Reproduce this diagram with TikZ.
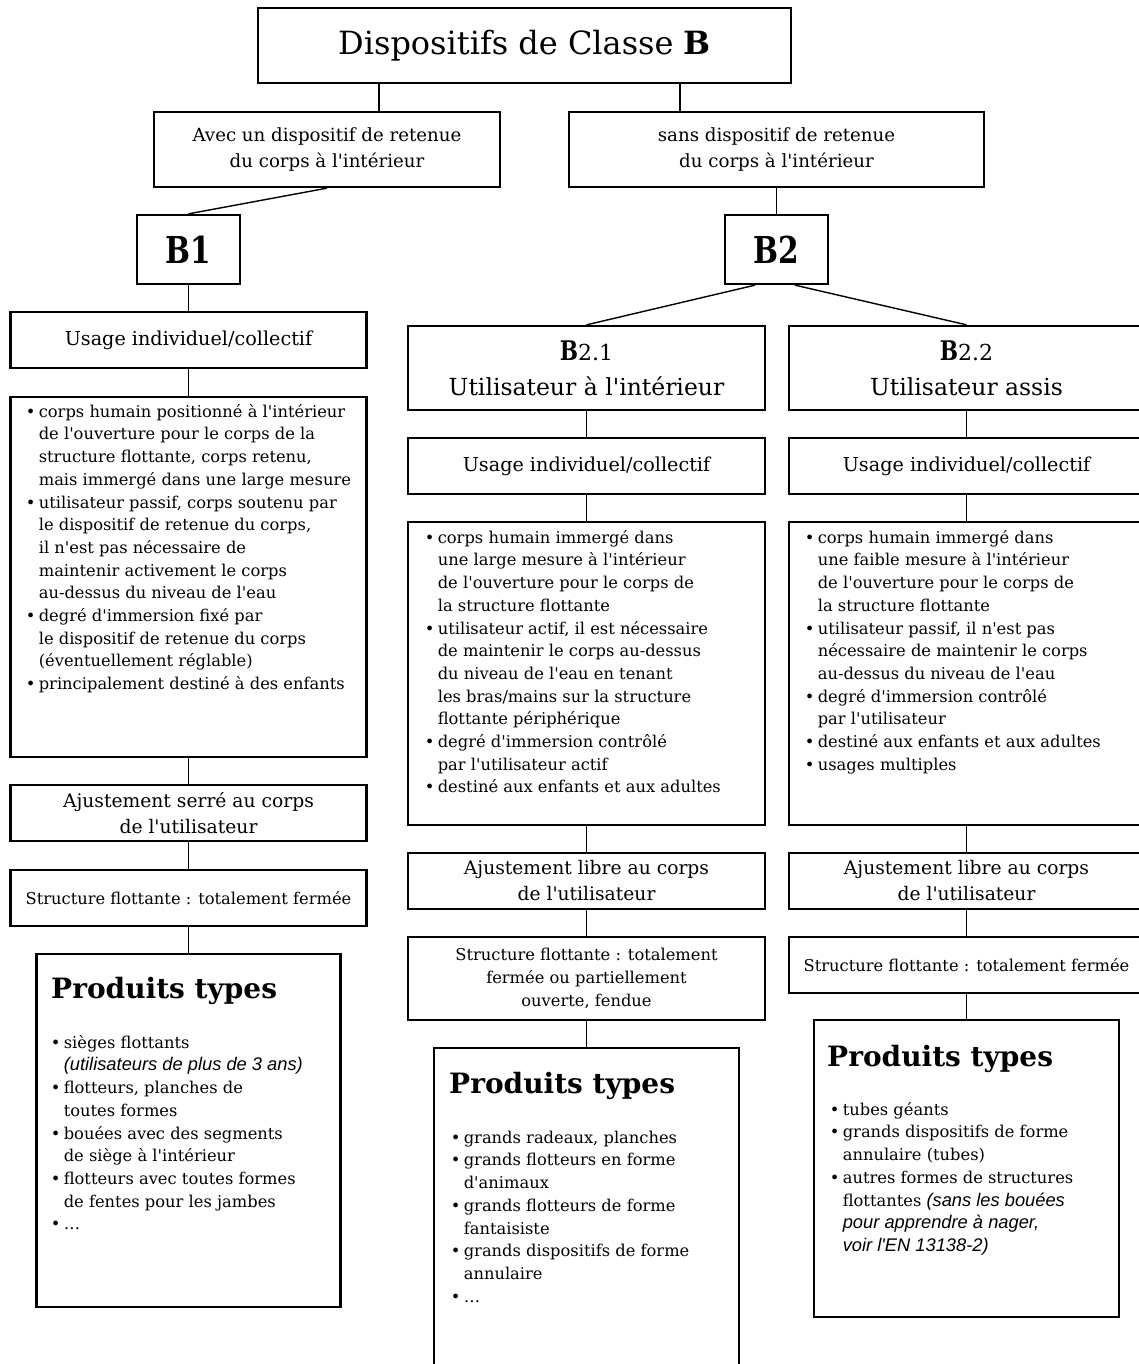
\documentclass[tikz,border=0pt]{standalone}
\usepackage{fontspec}
\setmainfont{DejaVu Serif}[Ligatures=TeXOff]
\newfontfamily\arialf{Liberation Sans}[Ligatures=TeXOff]
\newfontfamily\condf{DejaVu Serif}[FakeStretch=0.8]
\newcommand\bul{\makebox[13pt][l]{\textbullet}}
\newcommand\cont{\hspace*{13pt}}
\newcommand\fstrut{\rule{0pt}{16pt}}
\newcommand\ital[1]{{\arialf\itshape\fontsize{18.3}{22.7}\selectfont #1}}
\newcommand\bodyfont{\fontsize{16.3}{22.7}\selectfont}
\begin{document}
\begin{tikzpicture}[x=1pt,y=-1pt,
  box/.style={draw, line width=2.3pt, inner sep=0pt, align=center},
  conn/.style={line width=1.4pt},
  txt/.style={inner sep=0pt, align=left, anchor=north west, font=\bodyfont},
  head/.style={inner sep=0pt, anchor=base west, font=\fontsize{28}{32}\selectfont\bfseries}]
\useasboundingbox (0,0) rectangle (1139,1364);
\fill[white] (0,0) rectangle (1139,1364);

% top level
\node[box, minimum width=533pt, minimum height=75pt, font=\fontsize{32}{38}\selectfont] (top) at (524.5,45.5) {Dispositifs de Classe \textbf{B}};
\node[box, minimum width=346pt, minimum height=75pt, font=\fontsize{18.2}{26}\selectfont] (avec) at (327,149.5) {Avec un dispositif de retenue\\du corps à l'intérieur};
\node[box, minimum width=415pt, minimum height=75pt, font=\fontsize{18.2}{26}\selectfont] (sans) at (776.5,149.5) {sans dispositif de retenue\\du corps à l'intérieur};
\node[box, minimum width=103pt, minimum height=69pt, font=\condf\bfseries\fontsize{37}{40}\selectfont] (b1) at (188.5,249.5) {B1};
\node[box, minimum width=103pt, minimum height=69pt, font=\condf\bfseries\fontsize{37}{40}\selectfont] (b2) at (776.5,249.5) {B2};

% left column
\node[box, minimum width=356pt, minimum height=56pt, font=\fontsize{19.2}{24}\selectfont] (L1) at (188.5,340) {Usage individuel/collectif};
\node[box, minimum width=356pt, minimum height=360pt] (L2) at (188.5,577) {};
\node[box, minimum width=356pt, minimum height=56pt, font=\fontsize{18.7}{26}\selectfont] (L3) at (188.5,813) {Ajustement serré au corps\\de l'utilisateur};
\node[box, minimum width=356pt, minimum height=56pt, font=\bodyfont] (L4) at (188.5,898) {Structure flottante : totalement fermée};
\node[box, minimum width=304pt, minimum height=353pt] (L5) at (188.5,1130.5) {};

% middle column
\node[box, minimum width=357pt, minimum height=84pt, font=\fontsize{23.5}{35}\selectfont] (M0) at (586.5,368) {{\condf\bfseries\fontsize{27}{35}\selectfont B}{\fontsize{22}{35}\selectfont 2.1}\\Utilisateur à l'intérieur};
\node[box, minimum width=357pt, minimum height=56pt, font=\fontsize{19.2}{24}\selectfont] (M1) at (586.5,466) {Usage individuel/collectif};
\node[box, minimum width=357pt, minimum height=303pt] (M2) at (586.5,673.5) {};
\node[box, minimum width=357pt, minimum height=56pt, font=\fontsize{18.7}{26}\selectfont] (M3) at (586.5,881) {Ajustement libre au corps\\de l'utilisateur};
\node[box, minimum width=357pt, minimum height=83pt, font=\bodyfont] (M4) at (586.5,978.5) {Structure flottante : totalement\\fermée ou partiellement\\ouverte, fendue};
\node[box, minimum width=305pt, minimum height=332pt] (M5) at (586.5,1214) {};

% right column
\node[box, minimum width=355pt, minimum height=84pt, font=\fontsize{23.5}{35}\selectfont] (R0) at (966.5,368) {{\condf\bfseries\fontsize{27}{35}\selectfont B}{\fontsize{22}{35}\selectfont 2.2}\\Utilisateur assis};
\node[box, minimum width=355pt, minimum height=56pt, font=\fontsize{19.2}{24}\selectfont] (R1) at (966.5,466) {Usage individuel/collectif};
\node[box, minimum width=355pt, minimum height=303pt] (R2) at (966.5,673.5) {};
\node[box, minimum width=355pt, minimum height=56pt, font=\fontsize{18.7}{26}\selectfont] (R3) at (966.5,881) {Ajustement libre au corps\\de l'utilisateur};
\node[box, minimum width=355pt, minimum height=56pt, font=\bodyfont] (R4) at (966.5,965) {Structure flottante : totalement fermée};
\node[box, minimum width=305pt, minimum height=297pt] (R5) at (966.5,1168.5) {};

% connectors
\draw[conn] ([xshift=-145.5pt]top.south) -- ([xshift=52pt]avec.north);
\draw[conn] ([xshift=155.5pt]top.south) -- ([xshift=-96.5pt]sans.north);
\draw[conn] (avec.south) -- (b1.north);
\draw[conn] (sans.south) -- (b2.north);
\draw[conn] (b1.south) -- (L1.north);
\draw[conn] ([xshift=-21.5pt]b2.south) -- (M0.north);
\draw[conn] ([xshift=18.5pt]b2.south) -- (R0.north);
\draw[conn] (L1.south) -- (L2.north);
\draw[conn] (L2.south) -- (L3.north);
\draw[conn] (L3.south) -- (L4.north);
\draw[conn] (L4.south) -- (L5.north);
\draw[conn] (M0.south) -- (M1.north);
\draw[conn] (M1.south) -- (M2.north);
\draw[conn] (M2.south) -- (M3.north);
\draw[conn] (M3.south) -- (M4.north);
\draw[conn] (M4.south) -- (M5.north);
\draw[conn] (R0.south) -- (R1.north);
\draw[conn] (R1.south) -- (R2.north);
\draw[conn] (R2.south) -- (R3.north);
\draw[conn] (R3.south) -- (R4.north);
\draw[conn] (R4.south) -- (R5.north);

% bullet texts
\node[txt] (L2t) at (25.6,401) {\fstrut\bul corps humain positionné à l'intérieur\\
\cont de l'ouverture pour le corps de la\\
\cont structure flottante, corps retenu,\\
\cont mais immergé dans une large mesure\\
\bul utilisateur passif, corps soutenu par\\
\cont le dispositif de retenue du corps,\\
\cont il n'est pas nécessaire de\\
\cont maintenir activement le corps\\
\cont au-dessus du niveau de l'eau\\
\bul degré d'immersion fixé par\\
\cont le dispositif de retenue du corps\\
\cont (éventuellement réglable)\\
\bul principalement destiné à des enfants};

\node[txt] (M2t) at (424.6,527) {\fstrut\bul corps humain immergé dans\\
\cont une large mesure à l'intérieur\\
\cont de l'ouverture pour le corps de\\
\cont la structure flottante\\
\bul utilisateur actif, il est nécessaire\\
\cont de maintenir le corps au-dessus\\
\cont du niveau de l'eau en tenant\\
\cont les bras/mains sur la structure\\
\cont flottante périphérique\\
\bul degré d'immersion contrôlé\\
\cont par l'utilisateur actif\\
\bul destiné aux enfants et aux adultes};

\node[txt] (R2t) at (804.6,527) {\fstrut\bul corps humain immergé dans\\
\cont une faible mesure à l'intérieur\\
\cont de l'ouverture pour le corps de\\
\cont la structure flottante\\
\bul utilisateur passif, il n'est pas\\
\cont nécessaire de maintenir le corps\\
\cont au-dessus du niveau de l'eau\\
\bul degré d'immersion contrôlé\\
\cont par l'utilisateur\\
\bul destiné aux enfants et aux adultes\\
\bul usages multiples};

% produits types
\node[head] (L5h) at (51,998) {Produits types};
\node[txt] (L5t) at (50.6,1032) {\fstrut\bul sièges flottants\\
\cont\ital{(utilisateurs de plus de 3 ans)}\\
\bul flotteurs, planches de\\
\cont toutes formes\\
\bul bouées avec des segments\\
\cont de siège à l'intérieur\\
\bul flotteurs avec toutes formes\\
\cont de fentes pour les jambes\\
\bul …};

\node[head] (M5h) at (449,1093) {Produits types};
\node[txt] (M5t) at (450.6,1127) {\fstrut\bul grands radeaux, planches\\
\bul grands flotteurs en forme\\
\cont d'animaux\\
\bul grands flotteurs de forme\\
\cont fantaisiste\\
\bul grands dispositifs de forme\\
\cont annulaire\\
\bul …};

\node[head] (R5h) at (827,1066) {Produits types};
\node[txt] (R5t) at (829.6,1099) {\fstrut\bul tubes géants\\
\bul grands dispositifs de forme\\
\cont annulaire (tubes)\\
\bul autres formes de structures\\
\cont flottantes \ital{(sans les bouées}\\
\cont\ital{pour apprendre à nager,}\\
\cont\ital{voir l'EN 13138-2)}};
\end{tikzpicture}
\end{document}
